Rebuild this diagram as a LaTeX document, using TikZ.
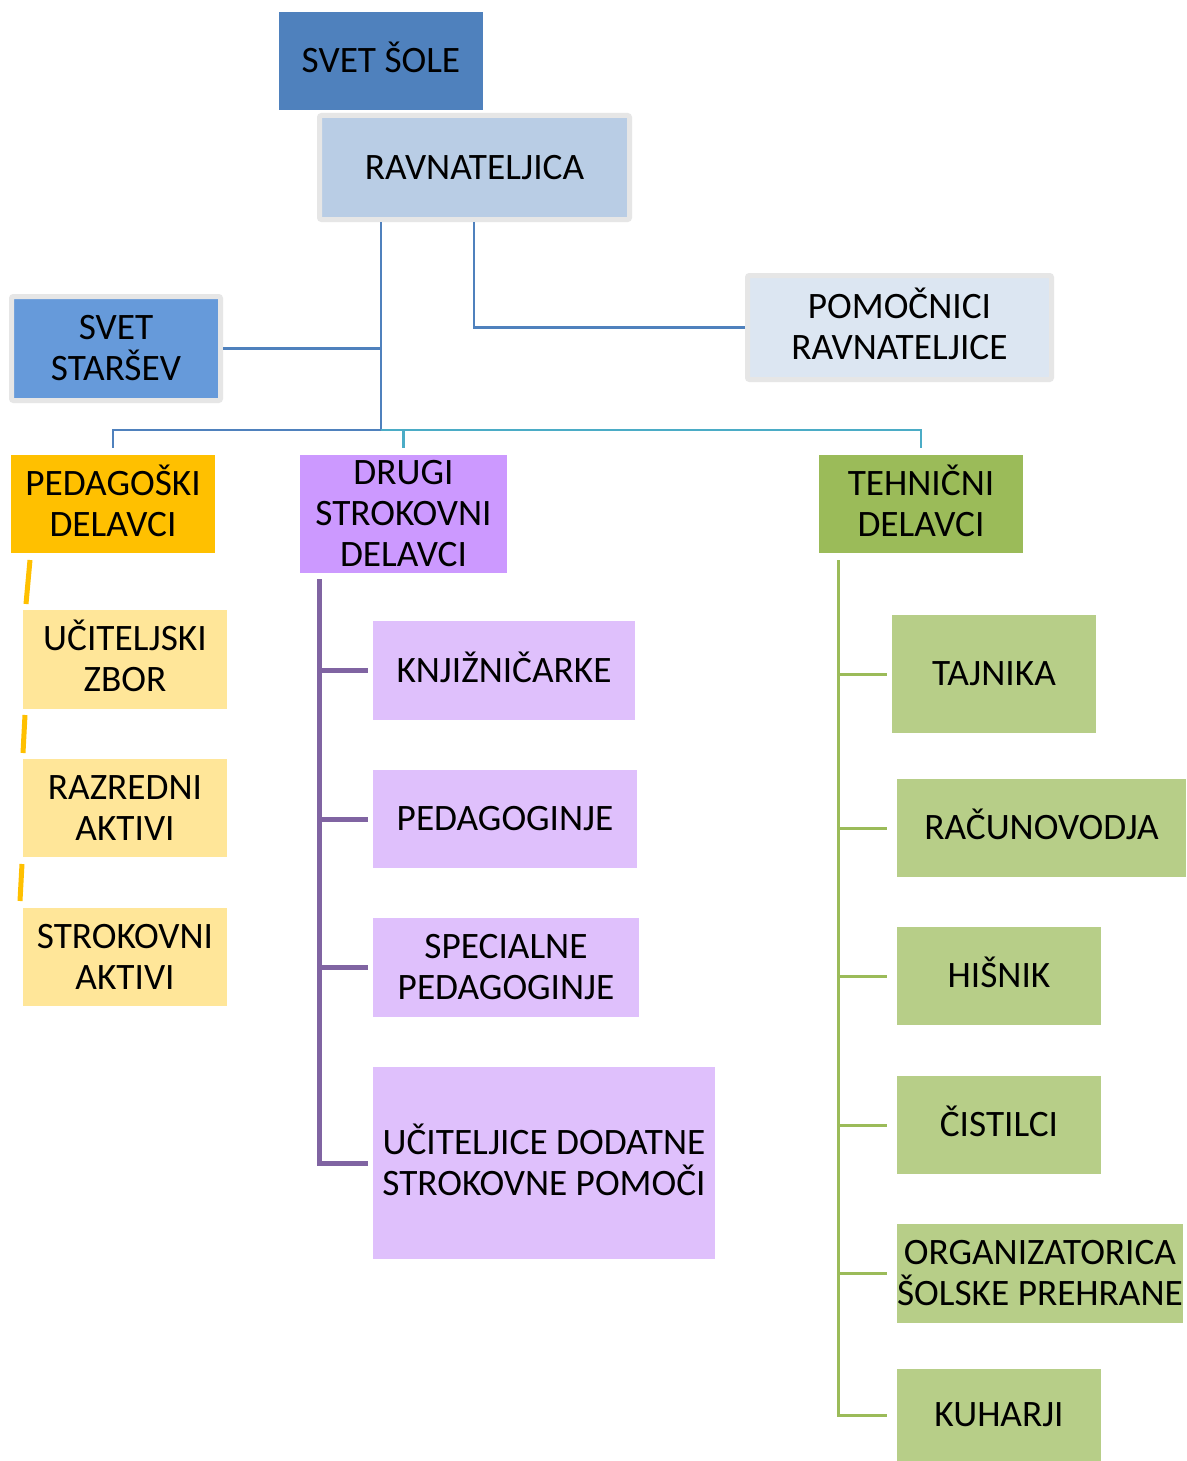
\documentclass[tikz,border=0pt]{standalone}
\usepackage{fontspec}
\setmainfont{Carlito}
\usetikzlibrary{calc}
\definecolor{sole}{HTML}{4F81BD}
\definecolor{ravfill}{HTML}{B9CDE5}
\definecolor{ssfill}{HTML}{669ADA}
\definecolor{pomfill}{HTML}{DCE6F2}
\definecolor{framegray}{HTML}{E6E6E6}
\definecolor{orangeh}{HTML}{FFC000}
\definecolor{yellowl}{HTML}{FFE699}
\definecolor{purpleh}{HTML}{CC99FF}
\definecolor{purplel}{HTML}{DFC0FC}
\definecolor{purpleln}{HTML}{8064A2}
\definecolor{greenh}{HTML}{9BBB59}
\definecolor{greenl}{HTML}{B7CE88}
\definecolor{cyanln}{HTML}{4BACC6}
\newcommand\capln[1]{\vphantom{A}\smash{#1}}
\begin{document}
\begin{tikzpicture}[x=1pt,y=-1pt,
  box/.style={rectangle, inner sep=0pt, outer sep=0pt, align=center,
    font=\fontsize{37.3}{41}\selectfont, text=black},
  framed/.style={box, draw=framegray, line width=5pt, rounded corners=2pt, outer sep=2.5pt},
  blueline/.style={draw=sole, line width=2.5pt},
  cyanline/.style={draw=cyanln, line width=2.5pt},
  purpleline/.style={draw=purpleln, line width=5pt},
  greenline/.style={draw=greenh, line width=3pt},
  orangeline/.style={draw=orangeh, line width=5pt}
]
\useasboundingbox[fill=white] (0,0) rectangle (1186,1461);

% top
\node[box, fill=sole, minimum width=204pt, minimum height=98pt] (sole) at (381,61) {\capln{SVET ŠOLE}};
\node[framed, fill=ravfill, minimum width=310pt, minimum height=104pt] (rav) at (474.5,167.5) {\capln{RAVNATELJICA}};
\node[framed, fill=ssfill, minimum width=209pt, minimum height=104pt] (ss) at (116,348.5) {\capln{SVET}\\\capln{STARŠEV}};
\node[framed, fill=pomfill, minimum width=304pt, minimum height=104pt] (pom) at (899.5,327.5) {\capln{POMOČNICI}\\\capln{RAVNATELJICE}};

% headers
\node[box, fill=orangeh, minimum width=204pt, minimum height=98pt] (ped) at (113,504) {\capln{PEDAGOŠKI}\\\capln{DELAVCI}};
\node[box, fill=purpleh, minimum width=207pt, minimum height=118pt] (drugi) at (403.5,514) {\capln{DRUGI}\\\capln{STROKOVNI}\\\capln{DELAVCI}};
\node[box, fill=greenh, minimum width=204pt, minimum height=98pt] (teh) at (921,504) {\capln{TEHNIČNI}\\\capln{DELAVCI}};

% yellow children
\node[box, fill=yellowl, minimum width=204pt, minimum height=99pt] (uc) at (125,659.5) {\capln{UČITELJSKI}\\\capln{ZBOR}};
\node[box, fill=yellowl, minimum width=204pt, minimum height=98pt] (raz) at (125,808) {\capln{RAZREDNI}\\\capln{AKTIVI}};
\node[box, fill=yellowl, minimum width=204pt, minimum height=98pt] (str) at (125,957) {\capln{STROKOVNI}\\\capln{AKTIVI}};

% purple children
\node[box, fill=purplel, minimum width=262pt, minimum height=99pt] (knj) at (504,670.5) {\capln{KNJIŽNIČARKE}};
\node[box, fill=purplel, minimum width=264pt, minimum height=98pt] (peda) at (505,819) {\capln{PEDAGOGINJE}};
\node[box, fill=purplel, minimum width=266pt, minimum height=99pt] (spec) at (506,967.5) {\capln{SPECIALNE}\\\capln{PEDAGOGINJE}};
\node[box, fill=purplel, minimum width=342pt, minimum height=192pt] (ucit) at (544,1163) {\capln{UČITELJICE DODATNE}\\\capln{STROKOVNE POMOČI}};

% green children
\node[box, fill=greenl, minimum width=204pt, minimum height=118pt] (taj) at (994,674) {\capln{TAJNIKA}};
\node[box, fill=greenl, minimum width=289pt, minimum height=98pt] (rac) at (1041.5,828) {\capln{RAČUNOVODJA}};
\node[box, fill=greenl, minimum width=204pt, minimum height=98pt] (his) at (999,976) {\capln{HIŠNIK}};
\node[box, fill=greenl, minimum width=204pt, minimum height=98pt] (cis) at (999,1125) {\capln{ČISTILCI}};
\node[box, fill=greenl, minimum width=286pt, minimum height=99pt] (org) at (1040,1273.5) {\capln{ORGANIZATORICA}\\\capln{ŠOLSKE PREHRANE}};
\node[box, fill=greenl, minimum width=204pt, minimum height=92pt] (kuh) at (999,1415) {\capln{KUHARJI}};

% connectors top
\coordinate (j1) at (381,430);
\coordinate (j2) at (474,300);
\draw[blueline] (rav.south -| j1) -- (j1);
\draw[blueline] (rav.south -| j2) |- (pom.west);
\draw[blueline] (ss.east) -- (ss.east -| j1);
\draw[blueline, shorten >=7pt] (j1) -| (ped.north);
\draw[cyanline, shorten >=7pt] (j1) -| (drugi.north);
\draw[cyanline, shorten >=7pt] (j1) -| (teh.north);

% orange dashes
\draw[orangeline] ($(ped.south west)+(19,7)$) -- ($(uc.north west)+(3,-6)$);
\draw[orangeline] ($(uc.south west)+(2,6)$) -- ($(raz.north west)+(0,-6)$);
\draw[orangeline] ($(raz.south west)+(-1,7)$) -- ($(str.north west)+(-3,-7)$);

% purple tree
\coordinate (p0) at ($(drugi.south west)+(19,6)$);
\draw[purpleline, shorten >=5pt] (p0) |- (ucit.west);
\draw[purpleline, shorten >=5pt] (p0 |- knj.west) -- (knj.west);
\draw[purpleline, shorten >=5pt] (p0 |- peda.west) -- (peda.west);
\draw[purpleline, shorten >=5pt] (p0 |- spec.west) -- (spec.west);

% green tree
\coordinate (g0) at ($(teh.south west)+(19,7)$);
\draw[greenline, shorten >=10pt] (g0) |- (kuh.west);
\draw[greenline, shorten >=5pt] (g0 |- taj.west) -- (taj.west);
\draw[greenline, shorten >=10pt] (g0 |- rac.west) -- (rac.west);
\draw[greenline, shorten >=10pt] (g0 |- his.west) -- (his.west);
\draw[greenline, shorten >=10pt] (g0 |- cis.west) -- (cis.west);
\draw[greenline, shorten >=10pt] (g0 |- org.west) -- (org.west);
\end{tikzpicture}
\end{document}
